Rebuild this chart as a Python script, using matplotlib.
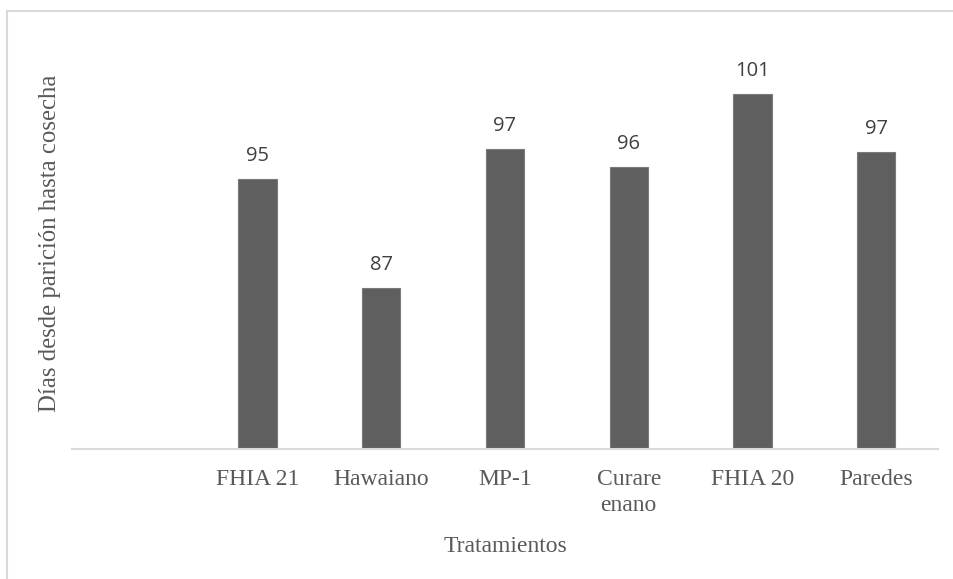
import matplotlib
matplotlib.use("Agg")
import matplotlib.pyplot as plt
from matplotlib.lines import Line2D
import numpy as np

# Days from flowering to harvest per cultivar
categories = ["FHIA 21", "Hawaiano", "MP-1", "Curare\nenano", "FHIA 20", "Paredes"]
dias = [94.7, 86.8, 96.9, 95.6, 100.9, 96.7]

W, H = 954, 579
fig = plt.figure(figsize=(W / 100, H / 100), dpi=100)

# outer chart frame (light grey): left and top edges
fx, fy = 7.5 / W, 1 - 11 / H
fig.add_artist(Line2D([fx, fx], [0, fy], transform=fig.transFigure,
                      color="#d9d9d9", linewidth=1.5))
fig.add_artist(Line2D([fx, 1], [fy, fy], transform=fig.transFigure,
                      color="#d9d9d9", linewidth=1.5))

left, right = 72 / W, 938 / W
bottom, top = 1 - 449.3 / H, 1 - 38.3 / H
ax = fig.add_axes([left, bottom, right - left, top - bottom])

x = np.arange(1, len(categories) + 1)
bars = ax.bar(x, dias, width=0.31, bottom=0, color="#5f5f5f",
              edgecolor="#7a7a7a", linewidth=0.8)

ax.set_xlim(-0.5, len(categories) + 0.5)
ax.set_ylim(75, 105)

for b, v in zip(bars, dias):
    ax.annotate(f"{v:.0f}", (b.get_x() + b.get_width() / 2, v),
                xytext=(0, 13), textcoords="offset points",
                ha="center", va="baseline", fontsize=14.5,
                family="Open Sans", color="#404040")

for s in ["top", "right", "left"]:
    ax.spines[s].set_visible(False)
ax.spines["bottom"].set_color("#d9d9d9")
ax.spines["bottom"].set_linewidth(1.5)
ax.set_yticks([])

ax.set_xticks(x)
ax.set_xticklabels(categories, family="Liberation Serif", fontsize=17,
                   color="#595959", linespacing=1.3, va="top")
ax.tick_params(axis="x", length=0, pad=14)

ax.set_xlabel("Tratamientos", family="Liberation Serif", fontsize=17, color="#595959")
ax.xaxis.set_label_coords(0.5, (449.3 - 547) / (449.3 - 38.3))
ax.xaxis.label.set_va("center")

ax.set_ylabel("Días desde parición hasta cosecha", family="Liberation Serif",
              fontsize=17.8, color="#595959")
ax.yaxis.set_label_coords((50 - 72) / (938 - 72), 0.5)
ax.yaxis.label.set_va("center")

fig.savefig("out.png", dpi=100)
